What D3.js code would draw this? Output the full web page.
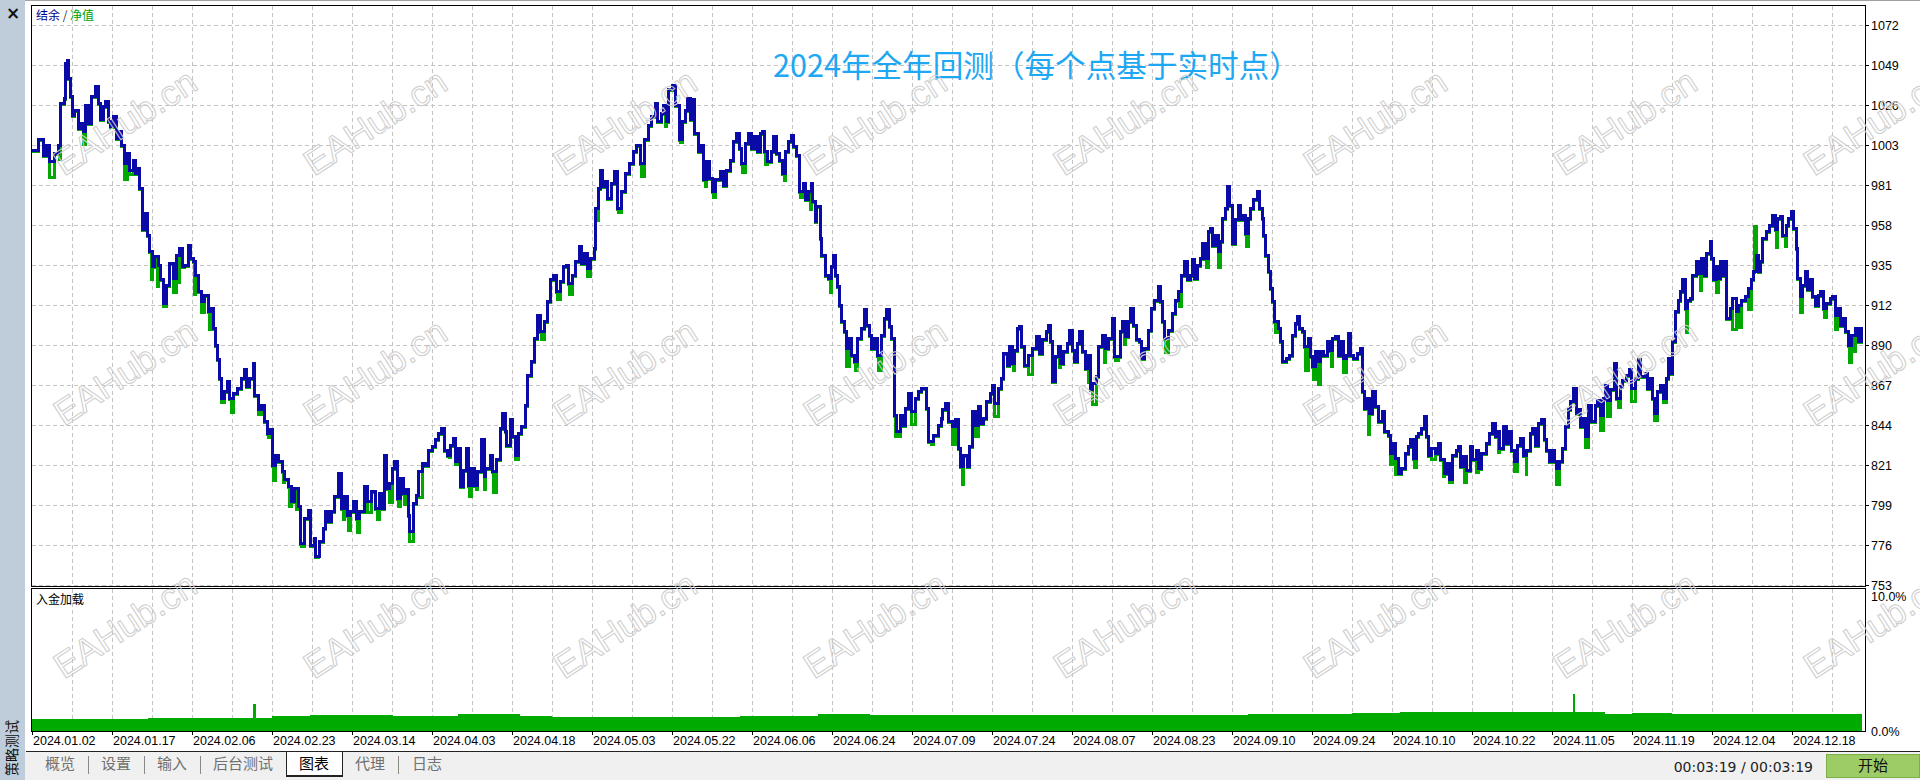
<!DOCTYPE html>
<html>
<head>
<meta charset="utf-8">
<script src="https://cdn.jsdelivr.net/npm/d3@7"></script>
<style>
  html, body { margin: 0; padding: 0; background: #fff; }
  svg { display: block; }
</style>
</head>
<body>
<div id="chart"></div>
<script>
// ---- data ----
// x is measured in date-label units (0 = 2024.01.02, 1 = next label, ...)
const dateLabels = ["2024.01.02", "2024.01.17", "2024.02.06", "2024.02.23", "2024.03.14", "2024.04.03",
  "2024.04.18", "2024.05.03", "2024.05.22", "2024.06.06", "2024.06.24", "2024.07.09", "2024.07.24",
  "2024.08.07", "2024.08.23", "2024.09.10", "2024.09.24", "2024.10.10", "2024.10.22", "2024.11.05",
  "2024.11.19", "2024.12.04", "2024.12.18"];

const yTickLabels = ["753", "776", "799", "821", "844", "867", "890", "912", "935", "958", "981", "1003", "1026", "1049", "1072"];
const yMin = 753.1, yStep = 22.8;

const subTickLabels = ["0.0%", "10.0%"];

// balance (结余)
const balance = [
  [0,1001.0],[0.075,1006.8],[0.138,998.2],[0.179,1003.9],[0.221,994.4],[0.283,999.3],[0.333,1003.9],[0.354,1027.7],[0.4,1030.5],[0.421,1050.4],[0.442,1052.3],[0.458,1041.9],[0.483,1031.4],[0.5,1021.0],[0.533,1023.8],[0.575,1013.4],[0.608,1016.3],[0.638,1011.5],[0.667,1026.7],[0.7,1016.3],[0.742,1031.4],[0.796,1037.1],[0.825,1027.7],[0.858,1018.2],[0.888,1025.7],[0.917,1028.6],[0.95,1017.2],[0.983,1014.3],[1.013,1020.0],[1.054,1007.7],[1.083,1011.5],[1.117,1003.9],[1.158,993.5],[1.192,999.2],[1.221,989.6],[1.263,995.3],[1.296,987.8],[1.325,990.6],[1.346,979.2],[1.375,955.5],[1.408,965.0],[1.442,952.6],[1.471,943.1],[1.5,934.6],[1.533,940.3],[1.575,935.5],[1.608,927.0],[1.638,913.7],[1.679,924.0],[1.721,936.5],[1.763,927.9],[1.804,941.2],[1.846,945.0],[1.875,934.6],[1.908,935.5],[1.95,946.9],[1.983,939.3],[2.013,937.4],[2.046,929.8],[2.083,920.3],[2.117,914.6],[2.158,918.4],[2.2,908.9],[2.242,910.8],[2.267,899.4],[2.292,889.9],[2.317,881.4],[2.346,871.0],[2.367,859.5],[2.408,863.3],[2.442,869.0],[2.471,859.5],[2.513,862.4],[2.567,865.3],[2.617,871.0],[2.65,875.7],[2.679,866.2],[2.721,871.0],[2.763,879.5],[2.783,861.4],[2.825,852.9],[2.867,855.7],[2.9,846.2],[2.942,839.6],[2.971,841.5],[3.0,821.5],[3.042,827.2],[3.083,823.4],[3.125,817.7],[3.158,813.0],[3.2,809.1],[3.242,800.6],[3.283,808.2],[3.325,797.7],[3.358,776.8],[3.4,791.1],[3.45,795.8],[3.483,775.9],[3.525,779.7],[3.542,769.3],[3.596,777.8],[3.638,785.4],[3.667,794.9],[3.7,789.2],[3.742,794.9],[3.783,803.4],[3.825,816.8],[3.867,796.8],[3.908,803.4],[3.942,793.0],[3.983,794.9],[4.013,800.6],[4.054,791.1],[4.096,794.9],[4.15,809.1],[4.192,800.6],[4.242,806.3],[4.292,796.8],[4.346,805.3],[4.375,796.8],[4.4,827.2],[4.429,808.2],[4.471,811.1],[4.5,819.6],[4.533,823.4],[4.567,802.5],[4.608,813.9],[4.638,805.3],[4.671,807.3],[4.7,793.0],[4.721,783.5],[4.763,799.7],[4.804,804.4],[4.833,817.7],[4.875,822.5],[4.917,821.5],[4.95,830.0],[5.0,832.0],[5.042,835.8],[5.083,839.6],[5.117,842.5],[5.15,830.0],[5.192,827.2],[5.233,832.9],[5.263,836.7],[5.292,823.4],[5.317,831.0],[5.358,809.1],[5.396,818.6],[5.429,831.0],[5.458,810.1],[5.492,819.6],[5.525,810.1],[5.567,817.7],[5.617,835.8],[5.65,814.8],
  [5.663,819.6],[5.725,827.2],[5.754,817.7],[5.808,824.4],[5.85,842.5],[5.879,851.0],[5.913,840.5],[5.933,832.9],[5.975,847.2],[6.004,837.7],[6.038,827.2],[6.079,839.6],[6.121,843.4],[6.163,855.7],[6.196,872.8],[6.246,880.4],[6.279,893.7],[6.321,907.0],[6.35,897.5],[6.404,903.2],[6.446,914.6],[6.475,927.0],[6.517,929.8],[6.55,920.3],[6.6,926.0],[6.642,934.6],[6.675,935.5],[6.704,925.1],[6.754,929.8],[6.788,937.4],[6.838,945.9],[6.863,936.5],[6.904,942.2],[6.938,933.6],[6.975,939.3],[7.029,945.0],[7.046,967.8],[7.079,979.2],[7.1,989.6],[7.129,980.2],[7.163,983.0],[7.196,973.5],[7.238,982.1],[7.279,988.7],[7.321,967.8],[7.371,977.3],[7.413,987.8],[7.463,993.5],[7.517,1000.1],[7.558,1003.9],[7.6,993.5],[7.654,1006.8],[7.704,1015.3],[7.746,1020.0],[7.788,1027.7],[7.821,1017.2],[7.863,1022.0],[7.892,1026.7],[7.925,1017.2],[7.954,1035.3],[8.004,1038.1],[8.046,1026.7],[8.088,1006.8],[8.129,1017.2],[8.163,1023.8],[8.196,1030.5],[8.225,1018.2],[8.246,1029.6],[8.279,1010.6],[8.329,1000.1],[8.363,1003.9],[8.392,984.0],[8.433,994.4],[8.463,984.9],[8.504,977.3],[8.546,984.0],[8.6,988.7],[8.642,981.1],[8.683,989.6],[8.725,995.3],[8.767,1005.8],[8.808,1010.6],[8.838,1002.0],[8.871,993.5],[8.913,1004.9],[8.954,1010.6],[8.988,1002.0],[9.029,1008.7],[9.071,1000.1],[9.1,1010.6],[9.129,1011.5],[9.154,1000.1],[9.196,994.4],[9.238,1000.1],[9.267,1008.7],[9.308,999.2],[9.338,995.3],[9.379,987.8],[9.413,1000.1],[9.454,1005.8],[9.488,1009.6],[9.517,1003.0],[9.558,998.2],[9.588,977.3],[9.642,982.1],[9.671,972.6],[9.704,977.3],[9.738,982.1],[9.754,971.6],[9.788,960.2],[9.808,968.7],[9.85,950.7],[9.871,941.2],[9.913,929.8],[9.954,927.9],[9.988,934.6],[10.017,941.2],[10.038,929.8],[10.071,923.1],[10.088,912.7],[10.121,903.2],[10.154,897.5],[10.183,888.0],[10.213,893.7],[10.246,884.2],[10.279,880.4],[10.321,893.7],[10.363,899.4],[10.404,909.9],[10.433,901.3],[10.463,895.6],[10.496,888.0],[10.529,893.7],[10.571,884.2],[10.613,895.6],[10.654,905.1],[10.683,909.9],[10.713,900.4],[10.746,893.7],[10.779,850.0],[10.808,840.5],[10.85,850.0],[10.879,844.3],[10.913,853.8],[10.954,862.4],[10.988,852.0],[11.038,859.5],[11.079,863.3],[11.121,865.3],[11.163,865.3],[11.183,853.8],[11.204,834.8],[11.267,838.6],[11.329,844.3],[11.371,848.1],
  [11.375,852.9],[11.417,856.7],[11.458,846.2],[11.5,843.4],[11.542,847.2],[11.583,831.0],[11.604,820.5],[11.646,827.2],[11.688,820.5],[11.717,832.0],[11.75,852.0],[11.792,844.3],[11.825,854.8],[11.854,845.3],[11.896,848.1],[11.925,857.6],[11.979,862.4],[12.008,867.1],[12.033,856.7],[12.075,865.3],[12.117,871.0],[12.146,885.3],[12.188,878.5],[12.217,888.9],[12.25,879.5],[12.283,887.0],[12.313,899.4],[12.342,900.4],[12.367,888.9],[12.408,878.5],[12.458,884.2],[12.5,888.0],[12.55,894.6],[12.592,885.3],[12.633,892.8],[12.675,897.5],[12.708,901.3],[12.729,891.8],[12.758,869.0],[12.792,883.2],[12.825,888.9],[12.854,879.5],[12.896,886.1],[12.938,890.9],[12.967,898.4],[13.0,887.0],[13.033,880.4],[13.063,890.9],[13.092,897.5],[13.125,886.1],[13.167,876.6],[13.2,884.2],[13.229,864.3],[13.258,868.1],[13.3,871.9],[13.333,888.9],[13.375,895.6],[13.417,888.0],[13.458,893.7],[13.5,905.1],[13.533,883.2],[13.575,883.2],[13.604,897.5],[13.633,903.2],[13.667,894.6],[13.7,903.2],[13.729,910.8],[13.771,901.3],[13.8,892.8],[13.842,891.8],[13.867,882.3],[13.908,888.0],[13.95,898.4],[13.992,910.8],[14.033,915.5],[14.075,923.1],[14.104,914.6],[14.125,903.2],[14.158,893.7],[14.208,898.4],[14.258,907.9],[14.292,915.5],[14.333,920.3],[14.367,929.8],[14.408,937.4],[14.438,927.0],[14.479,929.8],[14.508,938.4],[14.533,927.9],[14.563,935.5],[14.604,939.3],[14.633,947.8],[14.667,939.3],[14.7,954.5],[14.729,956.4],[14.758,946.9],[14.792,952.6],[14.825,943.1],[14.854,948.8],[14.883,962.1],[14.917,967.8],[14.946,980.2],[14.967,969.7],[15.0,947.8],[15.042,961.2],[15.075,969.7],[15.104,961.2],[15.133,964.0],[15.167,953.6],[15.2,962.1],[15.229,967.8],[15.271,972.6],[15.313,977.3],[15.342,967.8],[15.375,962.1],[15.396,952.6],[15.417,941.2],[15.45,931.7],[15.479,922.2],[15.508,914.6],[15.533,903.2],[15.575,899.4],[15.604,891.8],[15.633,880.4],[15.675,882.3],[15.717,884.2],[15.758,895.6],[15.792,902.3],[15.813,906.0],[15.842,899.4],[15.875,897.5],[15.908,888.9],[15.95,893.7],[15.979,883.2],[16.008,877.5],[16.042,886.1],[16.075,880.4],[16.104,886.1],[16.146,884.2],[16.188,891.8],[16.217,887.0],[16.258,893.7],[16.292,894.6],[16.325,884.2],[16.354,891.8],[16.396,882.3],[16.425,884.2],[16.45,896.6],[16.479,884.2],[16.521,882.3],[16.563,885.3],[16.604,888.0],[16.625,863.3],[16.658,853.8],[16.688,859.5],[16.717,851.0],[16.758,863.3],[16.792,854.8],[16.833,846.2],[16.875,852.0],[16.908,840.5],[16.95,838.6],[16.979,828.1],[17.008,833.8],[17.042,825.3],[17.075,816.8],
  [17.121,819.6],[17.163,828.1],[17.204,832.0],[17.233,835.8],[17.267,825.3],[17.3,837.7],[17.329,839.6],[17.371,842.5],[17.4,849.1],[17.433,837.7],[17.454,827.2],[17.496,831.0],[17.538,828.1],[17.579,833.8],[17.608,824.4],[17.65,816.8],[17.683,822.5],[17.717,813.0],[17.758,827.2],[17.8,830.0],[17.829,832.0],[17.85,820.5],[17.892,826.3],[17.925,818.6],[17.975,832.0],[18.008,824.4],[18.05,830.0],[18.079,819.6],[18.121,828.1],[18.175,833.8],[18.217,839.6],[18.254,845.3],[18.288,837.7],[18.317,840.5],[18.342,831.0],[18.392,843.4],[18.425,833.8],[18.467,840.5],[18.496,830.0],[18.525,823.4],[18.567,832.9],[18.608,836.7],[18.642,827.2],[18.683,830.0],[18.725,839.6],[18.758,842.5],[18.788,832.9],[18.829,845.3],[18.871,847.2],[18.9,835.8],[18.933,830.0],[18.967,823.4],[18.996,830.0],[19.025,823.4],[19.05,819.6],[19.092,823.4],[19.133,831.0],[19.163,843.4],[19.204,852.9],[19.233,857.6],[19.267,865.3],[19.3,851.0],[19.329,852.9],[19.358,843.4],[19.392,848.1],[19.413,837.7],[19.454,855.7],[19.496,846.2],[19.538,855.7],[19.567,858.5],[19.6,850.0],[19.642,859.5],[19.663,867.1],[19.692,858.5],[19.725,864.3],[19.775,879.5],[19.808,859.5],[19.85,866.2],[19.883,869.9],[19.925,872.8],[19.967,875.7],[19.996,865.3],[20.038,871.0],[20.079,881.4],[20.108,871.9],[20.163,873.8],[20.192,865.3],[20.225,871.0],[20.258,859.5],[20.275,851.0],[20.317,863.3],[20.358,867.1],[20.392,859.5],[20.425,871.0],[20.454,882.3],[20.483,873.8],[20.508,891.8],[20.538,908.9],[20.579,915.5],[20.608,920.3],[20.633,927.0],[20.663,910.8],[20.692,915.5],[20.725,916.5],[20.758,929.8],[20.8,937.4],[20.829,930.8],[20.871,939.3],[20.9,929.8],[20.933,942.2],[20.975,948.8],[20.996,939.3],[21.017,927.0],[21.05,934.6],[21.079,927.9],[21.108,937.4],[21.142,929.8],[21.163,937.4],[21.183,905.1],[21.225,910.8],[21.258,916.5],[21.3,908.9],[21.329,912.7],[21.371,915.5],[21.413,917.4],[21.454,922.2],[21.496,927.0],[21.517,931.7],[21.55,941.2],[21.579,931.7],[21.608,937.4],[21.633,950.7],[21.675,954.5],[21.717,958.3],[21.758,964.0],[21.788,955.5],[21.817,962.1],[21.85,963.0],[21.883,952.6],[21.925,958.3],[21.954,962.1],[21.996,965.9],[22.017,956.4],[22.05,945.0],[22.067,927.9],[22.1,917.4],[22.133,924.0],[22.163,931.7],[22.192,921.3],[22.225,927.0],[22.258,917.4],[22.288,912.7],[22.329,918.4],[22.358,920.3],[22.392,910.8],[22.433,913.7],[22.475,916.5],[22.508,917.4],[22.538,907.0],[22.567,910.8],[22.6,901.3],[22.633,905.1],[22.663,897.5],[22.704,889.9],[22.746,895.6],[22.788,899.4],[22.829,891.8],[22.871,900.4]
];

// equity (净值) readings where it leaves the balance line
const equityDips = [
  [0.221,985.8],[0.346,996.3],[0.638,1004.9],[1.158,984.9],[1.221,987.8],[1.492,927.9],[1.567,924.0],[1.638,912.7],[1.763,920.3],[1.817,926.0],[2.033,919.4],[2.117,908.9],[2.221,899.4],[2.367,857.6],[2.492,852.0],[2.825,851.0],[2.95,837.7],[3.013,813.0],[3.138,812.0],[3.221,798.7],[3.304,796.8],[3.367,775.9],[3.575,770.2],[3.888,791.1],[3.958,784.5],[4.067,783.5],[4.192,794.9],[4.317,791.1],[4.471,800.6],[4.575,798.7],[4.658,799.7],[4.721,778.7],[4.833,803.4],[5.221,826.3],[5.292,822.5],[5.471,804.4],[5.554,808.2],[5.65,808.2],[5.767,806.3],[6.038,825.3],[6.363,893.7],[6.571,916.5],[6.713,919.4],[6.946,929.8],[7.071,961.2],[7.329,965.9],[7.621,986.8],[7.913,1015.3],[8.1,1005.8],[8.413,981.1],[8.517,974.5],[8.879,988.7],[9.163,993.5],[9.4,984.0],[9.6,974.5],[9.729,967.8],[9.975,920.3],[10.183,878.5],[10.288,875.7],[10.579,875.7],[10.788,838.6],[10.829,838.6],[10.988,845.3],[11.246,833.8],[11.5,833.8],[11.625,811.1],[11.792,838.6],[12.033,850.0],[12.271,875.7],[12.458,873.8],[12.842,877.5],[13.208,869.0],[13.258,856.7],[13.408,880.4],[13.542,881.4],[13.65,890.9],[14.163,886.1],[14.342,912.7],[14.675,934.6],[14.825,934.6],[15.175,946.9],[15.542,897.5],[15.917,875.7],[16.021,871.0],[16.083,868.1],[16.242,878.5],[16.396,874.7],[16.708,839.6],[16.979,822.5],[17.042,816.8],[17.287,820.5],[17.496,825.3],[17.642,815.8],[17.717,812.0],[17.9,812.0],[18.058,817.7],[18.329,829.1],[18.537,818.6],[18.675,816.8],[19.05,811.1],[19.413,832.0],[19.608,841.5],[19.692,850.0],[19.829,854.8],[19.996,858.5],[20.275,847.2],[20.392,857.6],[20.675,897.5],[20.85,921.3],[21.058,920.3],[21.258,899.4],[21.342,900.4],[21.454,910.8],[21.537,958.3],[21.8,946.0],[21.913,946.9],[22.108,908.9],[22.4,906.0],[22.538,899.4],[22.717,880.4],[22.775,887.0]
];

// deposit load (入金加载), % — value holds until the next entry
const depositLoad = [
  [0,0.85],[1.45,0.92],[2.0,0.97],[2.76,1.97],[2.8,0.97],[3.0,1.09],[3.475,1.15],[4.51,1.12],[5.325,1.24],[6.1,1.12],[6.5,1.04],[8.85,1.09],[9.475,1.12],[9.825,1.22],[10.225,1.24],[10.475,1.17],[15.2,1.24],[16.5,1.31],[17.1,1.39],[18.5,1.41],[19.05,1.36],[19.26,2.68],[19.29,1.36],[19.66,1.26],[20.0,1.29],[20.5,1.24],[22.875,1.24]
];

const tabs = ["概览", "设置", "输入", "后台测试", "图表", "代理", "日志"];

// ---- drawing ----
const width = 1920, height = 780;
const L = 31, R = 1865, T = 5, B = 586, subT = 588, subB = 731;

const svg = d3.select("#chart").append("svg")
  .attr("width", width)
  .attr("height", height);

const x = d3.scaleLinear().domain([0, 23]).range([32, 1872]);
const y = d3.scaleLinear().domain([yMin, yMin + yStep * 14]).range([585, 25]);
const ySub = d3.scaleLinear().domain([0, 10]).range([subB, 594]);
const yTicks = yTickLabels.map((d, i) => yMin + i * yStep);

svg.append("defs").append("clipPath").attr("id", "mainClip")
  .append("rect").attr("x", L + 1).attr("y", T + 1).attr("width", R - L - 1).attr("height", B - T - 1);

// left strip + top edge
svg.append("rect").attr("x", 0).attr("y", 0).attr("width", 25).attr("height", height).attr("fill", "#bfcddb");
svg.append("line").attr("x1", 25).attr("x2", width).attr("y1", 0.5).attr("y2", 0.5).attr("stroke", "#a0a0a0");
svg.append("text").attr("x", 13).attr("y", 19).attr("text-anchor", "middle")
  .style("font", "bold 17px 'DejaVu Sans'").attr("fill", "#111").text("×");
svg.append("text").attr("transform", "translate(17,748) rotate(-90)").attr("text-anchor", "middle")
  .style("font", "14px 'Noto Sans CJK SC'").attr("fill", "#111").text("策略测试");

// grid
const grid = svg.append("g").attr("stroke", "#c4c4c4").attr("stroke-dasharray", "4,3").attr("shape-rendering", "crispEdges");
grid.selectAll(".hg").data(yTicks).enter().append("line")
  .attr("x1", L + 1).attr("x2", R).attr("y1", d => Math.round(y(d)) + 0.5).attr("y2", d => Math.round(y(d)) + 0.5);
const vGrid = d3.range(1, 46).map(k => k / 2);
grid.selectAll(".vg").data(vGrid).enter().append("line")
  .attr("x1", d => Math.round(x(d)) + 0.5).attr("x2", d => Math.round(x(d)) + 0.5).attr("y1", T + 1).attr("y2", B);
grid.selectAll(".vg2").data(vGrid).enter().append("line")
  .attr("x1", d => Math.round(x(d)) + 0.5).attr("x2", d => Math.round(x(d)) + 0.5).attr("y1", subT + 1).attr("y2", subB);

// deposit load area
const loadArea = d3.area().x(d => x(d[0])).y0(subB).y1(d => ySub(d[1])).curve(d3.curveStepAfter);
svg.append("path").datum(depositLoad).attr("d", loadArea).attr("fill", "#00aa00").attr("shape-rendering", "crispEdges");

// equity & balance lines
const equity = balance.concat(equityDips).sort((a, b) => a[0] - b[0]);
const line = d3.line().x(d => x(d[0])).y(d => y(d[1])).curve(d3.curveStepAfter);
const lines = svg.append("g").attr("clip-path", "url(#mainClip)");
lines.append("path").datum(equity).attr("d", line).attr("transform", "translate(0,1)")
  .attr("fill", "none").attr("stroke", "#00a800").attr("stroke-width", 3).attr("shape-rendering", "crispEdges");
lines.append("path").datum(balance).attr("d", line)
  .attr("fill", "none").attr("stroke", "#0a0aa6").attr("stroke-width", 3).attr("shape-rendering", "crispEdges");

// frames
const frame = svg.append("g").attr("fill", "none").attr("stroke", "#000").attr("shape-rendering", "crispEdges");
frame.append("rect").attr("x", L + 0.5).attr("y", T + 0.5).attr("width", R - L).attr("height", B - T);
frame.append("rect").attr("x", L + 0.5).attr("y", subT + 0.5).attr("width", R - L).attr("height", subB - subT);

// right axis
const axisFont = "12.5px 'Liberation Sans'";
svg.selectAll(".ytick").data(yTicks).enter().append("line")
  .attr("x1", R).attr("x2", R + 4).attr("y1", d => Math.round(y(d)) + 0.5).attr("y2", d => Math.round(y(d)) + 0.5)
  .attr("stroke", "#000");
svg.selectAll(".ylab").data(yTicks).enter().append("text")
  .attr("x", R + 6).attr("y", d => y(d) + 4.5)
  .style("font", axisFont).attr("fill", "#000")
  .text((d, i) => yTickLabels[i]);
svg.selectAll(".slab").data([0, 10]).enter().append("text")
  .attr("x", R + 6).attr("y", d => d === 0 ? subB + 5 : 601)
  .style("font", axisFont).attr("fill", "#000")
  .text((d, i) => subTickLabels[i]);

// x axis
svg.selectAll(".xtick").data(dateLabels).enter().append("line")
  .attr("x1", (d, i) => Math.round(x(i)) + 0.5).attr("x2", (d, i) => Math.round(x(i)) + 0.5)
  .attr("y1", subB).attr("y2", subB + 4).attr("stroke", "#000");
svg.selectAll(".xlab").data(dateLabels).enter().append("text")
  .attr("x", (d, i) => x(i) + 1).attr("y", 745)
  .style("font", axisFont).attr("fill", "#000")
  .text(d => d);

// legend, pane label, title
const legend = svg.append("text").attr("x", 36).attr("y", 20).style("font", "12px 'Noto Sans CJK SC'");
legend.append("tspan").attr("fill", "#00008b").text("结余");
legend.append("tspan").attr("fill", "#333").text(" / ");
legend.append("tspan").attr("fill", "#00a000").text("净值");
svg.append("text").attr("x", 36).attr("y", 604).style("font", "12px 'Noto Sans CJK SC'").attr("fill", "#000").text("入金加载");
svg.append("text").attr("x", 773).attr("y", 77).style("font", "30.6px 'Noto Sans CJK SC'").attr("fill", "#1ea7f2")
  .text("2024年全年回测（每个点基于实时点）");

// watermark
const wm = svg.append("g").attr("fill", "none").attr("stroke", "#cdcdcd").attr("stroke-width", 1)
  .style("font", "36px 'Liberation Sans'");
[122, 372, 625].forEach(cy => {
  d3.range(8).forEach(k => {
    wm.append("text").attr("text-anchor", "middle").attr("dy", "0.35em")
      .attr("transform", "translate(" + (125 + 250 * k) + "," + cy + ") rotate(-33)")
      .text("EAHub.cn");
  });
});

// bottom bar
svg.append("rect").attr("x", 25).attr("y", 752).attr("width", width - 25).attr("height", 28).attr("fill", "#f0f0f0");
svg.append("line").attr("x1", 26).attr("x2", width).attr("y1", 751.5).attr("y2", 751.5).attr("stroke", "#222");
const tabX = [60, 116, 172, 243, 314, 370, 427];
const sepX = [88, 144, 200, 398];
svg.append("rect").attr("x", 286.5).attr("y", 751.5).attr("width", 56).attr("height", 24)
  .attr("fill", "#fff").attr("stroke", "#222").attr("stroke-width", 1);
svg.append("line").attr("x1", 286).attr("x2", 343).attr("y1", 776).attr("y2", 776).attr("stroke", "#222").attr("stroke-width", 2);
svg.selectAll(".sep").data(sepX).enter().append("line")
  .attr("x1", d => d + 0.5).attr("x2", d => d + 0.5).attr("y1", 756).attr("y2", 774).attr("stroke", "#8a8a8a");
svg.selectAll(".tab").data(tabs).enter().append("text")
  .attr("x", (d, i) => tabX[i]).attr("y", 769).attr("text-anchor", "middle")
  .style("font", "15px 'Noto Sans CJK SC'")
  .attr("fill", d => d === "图表" ? "#000" : "#707070")
  .text(d => d);

svg.append("text").attr("x", 1813).attr("y", 772).attr("text-anchor", "end")
  .style("font", "14px 'DejaVu Sans'").attr("fill", "#222").text("00:03:19 / 00:03:19");
svg.append("rect").attr("x", 1826.5).attr("y", 754.5).attr("width", 93).attr("height", 23)
  .attr("fill", "#9dcb66").attr("stroke", "#7cb046");
svg.append("text").attr("x", 1873).attr("y", 771).attr("text-anchor", "middle")
  .style("font", "15px 'Noto Sans CJK SC'").attr("fill", "#111").text("开始");
</script>
</body>
</html>
